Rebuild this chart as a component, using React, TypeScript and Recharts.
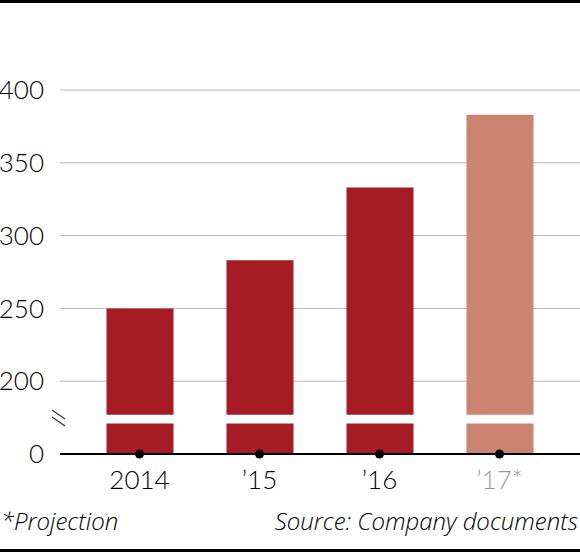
import React from 'react';
import { BarChart, Bar, XAxis, YAxis, CartesianGrid, ReferenceArea, Cell } from 'recharts';

// --- Data ---
const years = ['2014', '\u201915', '\u201916', '\u201917*'];
const revenue = [250, 283, 333, 383];
const projected = [false, false, false, true];
// axis is broken: the bottom tick (drawn as "0") sits where 150 would be
const axisFloor = 150;
const yTicks = [150, 200, 250, 300, 350, 400];
const breakBand = [171, 177];

const data = years.map((year, i) => ({ year, value: revenue[i], projected: projected[i] }));

const FONT = 'Lato, "Open Sans", sans-serif';
const NOTE_FONT = '"Open Sans", Lato, sans-serif';
const RED = '#A51C24';
const PALE = '#CA8470';

const YearTick = (props: any) => {
  const { x, y, payload, index } = props;
  const isProj = projected[index];
  return (
    <g>
      <circle cx={x} cy={y - 16} r={4.5} fill="#000" />
      <text x={x} y={y + 19} textAnchor="middle" fontFamily={FONT} fontWeight={300} fontSize={26} fill={isProj ? '#999' : '#000'}>
        {payload.value}
      </text>
    </g>
  );
};

export default function App() {
  return (
    <div style={{ position: 'absolute', left: 0, top: 0, width: 580, height: 552, background: '#fff', overflow: 'hidden' }}>
      <div style={{ position: 'absolute', left: 0, top: 0, width: 580, height: 3, background: '#000' }} />
      <BarChart width={580} height={500} data={data} margin={{ top: 90, right: 0, bottom: 6, left: 0 }}>
        <CartesianGrid vertical={false} stroke="#b8b8b8" strokeWidth={1} />
        <XAxis
          dataKey="year"
          tick={<YearTick />}
          tickLine={false}
          tickSize={0}
          tickMargin={16}
          axisLine={{ stroke: '#000', strokeWidth: 2 }}
          padding={{ left: 19.5, right: 20.5 }}
          height={40}
          interval={0}
        />
        <YAxis
          type="number"
          domain={[axisFloor, 400]}
          ticks={yTicks}
          tickFormatter={(v: number) => (v === axisFloor ? '0' : String(v))}
          width={60}
          axisLine={false}
          tickLine={false}
          tickMargin={10}
          tick={{ fontFamily: FONT, fontWeight: 300, fontSize: 26, fill: '#000' }}
        />
        <Bar dataKey="value" barSize={67} isAnimationActive={false}>
          {data.map((d, i) => (
            <Cell key={`cell-${i}`} fill={d.projected ? PALE : RED} />
          ))}
        </Bar>
        <ReferenceArea y1={breakBand[0]} y2={breakBand[1]} fill="#fff" fillOpacity={1} stroke="none" zIndex={350} />
      </BarChart>
      <svg style={{ position: 'absolute', left: 0, top: 0 }} width={80} height={460}>
        <line x1={52} y1={410} x2={65} y2={419} stroke="#333" strokeWidth={1.2} />
        <line x1={52} y1={417} x2={65} y2={426} stroke="#333" strokeWidth={1.2} />
      </svg>
      <div style={{ position: 'absolute', left: 1, top: 504, fontFamily: NOTE_FONT, fontStyle: 'italic', fontWeight: 300, fontSize: 24, color: '#000' }}>
        *Projection
      </div>
      <div style={{ position: 'absolute', right: 2, top: 504, fontFamily: NOTE_FONT, fontStyle: 'italic', fontWeight: 300, fontSize: 24, color: '#000' }}>
        Source: Company documents
      </div>
      <div style={{ position: 'absolute', left: 0, top: 549, width: 580, height: 3, background: '#000' }} />
    </div>
  );
}
